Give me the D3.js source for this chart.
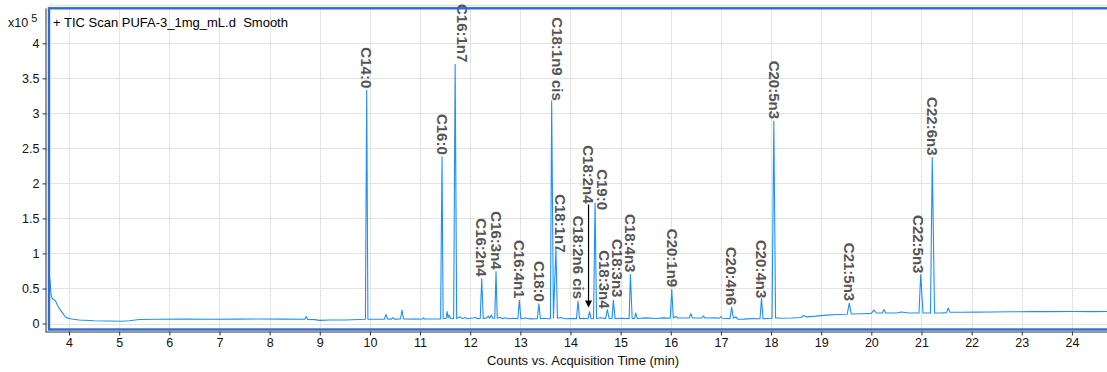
<!DOCTYPE html>
<html>
<head>
<meta charset="utf-8">
<script src="https://cdn.jsdelivr.net/npm/d3@7"></script>
<style>
  html, body { margin: 0; padding: 0; background: #fff; }
  svg { display: block; font-family: "Liberation Sans", Arial, Helvetica, sans-serif; }
</style>
</head>
<body>
<svg id="chart" width="1107" height="372"></svg>
<script>
// ---- Data: TIC trace of PUFA-3 (1 mg/mL), counts in units of 1e5 ----

// Identified FAME peaks: name, retention time (min), apex height (x10^5 counts)
const peakNames = [
  "C14:0", "C16:0", "C16:1n7", "C16:2n4", "C16:3n4", "C16:4n1", "C18:0",
  "C18:1n9 cis", "C18:1n7", "C18:2n6 cis", "C18:2n4", "C19:0", "C18:3n4",
  "C18:3n3", "C18:4n3", "C20:1n9", "C20:4n6", "C20:4n3", "C20:5n3",
  "C21:5n3", "C22:5n3", "C22:6n3"
];
const peakTimes = [
  9.936, 11.438, 11.700, 12.230, 12.515, 12.980, 13.370,
  13.625, 13.710, 14.150, 14.380, 14.490, 14.735,
  14.855, 15.195, 16.020, 17.215, 17.810, 18.055,
  19.560, 20.985, 21.215
];
const peakHeights = [
  3.33, 2.38, 3.70, 0.64, 0.74, 0.33, 0.28,
  3.18, 1.07, 0.32, 0.17, 1.72, 0.20,
  0.33, 0.70, 0.49, 0.23, 0.36, 2.89,
  0.29, 0.70, 2.37
];

// Baseline and unlabelled minor peaks: [time (min), counts (x10^5)]
const baselinePoints = [
  [3.60, 0.70], [3.62, 0.62], [3.64, 0.42], [3.66, 0.36], [3.70, 0.34], [3.73, 0.32],
  [3.76, 0.27], [3.80, 0.22], [3.84, 0.18], [3.88, 0.14], [3.92, 0.10], [3.96, 0.08],
  [4.05, 0.065], [4.20, 0.050], [4.50, 0.040], [4.80, 0.035], [5.05, 0.033],
  [5.20, 0.040], [5.40, 0.058], [5.80, 0.060], [6.30, 0.062], [6.80, 0.060],
  [7.30, 0.062], [7.80, 0.064], [8.30, 0.062], [8.70, 0.060], [8.73, 0.100],
  [8.76, 0.058], [8.90, 0.055], [9.00, 0.045], [9.20, 0.050], [9.50, 0.050],
  [9.80, 0.058], [9.91, 0.060], [9.96, 0.062], [10.10, 0.060], [10.29, 0.062],
  [10.32, 0.130], [10.35, 0.064], [10.43, 0.062], [10.46, 0.085], [10.49, 0.062],
  [10.61, 0.064], [10.64, 0.190], [10.67, 0.064], [10.90, 0.062], [11.05, 0.064],
  [11.07, 0.080], [11.09, 0.064], [11.41, 0.066], [11.46, 0.070], [11.52, 0.075],
  [11.54, 0.170], [11.56, 0.080], [11.58, 0.120], [11.61, 0.072], [11.67, 0.070],
  [11.73, 0.072], [11.80, 0.095], [11.84, 0.070], [11.90, 0.085], [11.95, 0.068],
  [12.05, 0.078], [12.10, 0.085], [12.14, 0.070], [12.20, 0.072], [12.26, 0.072],
  [12.33, 0.080], [12.36, 0.105], [12.39, 0.075], [12.42, 0.120], [12.45, 0.075],
  [12.49, 0.074], [12.54, 0.074], [12.60, 0.090], [12.64, 0.070], [12.70, 0.082],
  [12.76, 0.068], [12.85, 0.075], [12.95, 0.068], [13.01, 0.068], [13.10, 0.078],
  [13.20, 0.066], [13.34, 0.068], [13.40, 0.068], [13.46, 0.075], [13.55, 0.068],
  [13.60, 0.070], [13.66, 0.080], [13.74, 0.075], [13.80, 0.085], [13.90, 0.068],
  [14.00, 0.072], [14.12, 0.070], [14.18, 0.070], [14.26, 0.075], [14.35, 0.068],
  [14.41, 0.068], [14.46, 0.070], [14.52, 0.072], [14.60, 0.082], [14.70, 0.070],
  [14.77, 0.072], [14.83, 0.072], [14.89, 0.070], [15.00, 0.074], [15.17, 0.070],
  [15.23, 0.070], [15.28, 0.072], [15.30, 0.150], [15.33, 0.072], [15.50, 0.080],
  [15.70, 0.072], [15.85, 0.080], [15.99, 0.075], [16.05, 0.078], [16.10, 0.100],
  [16.14, 0.078], [16.37, 0.080], [16.40, 0.140], [16.43, 0.080], [16.62, 0.078],
  [16.65, 0.110], [16.68, 0.078], [16.90, 0.080], [16.97, 0.075], [17.00, 0.100],
  [17.03, 0.075], [17.18, 0.070], [17.25, 0.075], [17.30, 0.095], [17.34, 0.060],
  [17.45, 0.062], [17.60, 0.070], [17.78, 0.068], [17.84, 0.070], [17.95, 0.072],
  [18.02, 0.075], [18.09, 0.080], [18.20, 0.075], [18.40, 0.078], [18.60, 0.085],
  [18.65, 0.115], [18.70, 0.095], [18.90, 0.105], [19.10, 0.120], [19.30, 0.128],
  [19.52, 0.132], [19.60, 0.135], [19.80, 0.140], [20.00, 0.145], [20.05, 0.190],
  [20.10, 0.150], [20.22, 0.150], [20.25, 0.200], [20.29, 0.150], [20.50, 0.150],
  [20.60, 0.165], [20.75, 0.150], [20.95, 0.150], [21.03, 0.150], [21.18, 0.150],
  [21.26, 0.150], [21.40, 0.150], [21.50, 0.155], [21.53, 0.220], [21.57, 0.160],
  [21.80, 0.160], [22.10, 0.162], [22.40, 0.165], [22.80, 0.168], [23.20, 0.170],
  [23.60, 0.170], [24.00, 0.172], [24.40, 0.170], [24.70, 0.172]
];

const xTickValues = [4, 5, 6, 7, 8, 9, 10, 11, 12, 13, 14, 15, 16, 17, 18, 19, 20, 21, 22, 23, 24];
const yTickValues = [0, 0.5, 1, 1.5, 2, 2.5, 3, 3.5, 4];
const yTickLabels = ["0", "0.5", "1", "1.5", "2", "2.5", "3", "3.5", "4"];

const titleText = "+ TIC Scan PUFA-3_1mg_mL.d  Smooth";
const xAxisTitle = "Counts vs. Acquisition Time (min)";

// ---- Layout ----
const plot = { left: 49, right: 1107, top: 8.3, bottom: 329.5 };
const lineColor = "#1e8fff";
const frameColor = "#2f6bd3";
const labelColor = "#555555";

// Label placement tweaks (px): horizontal shift, extra gap above apex, leader arrow
const labelLayout = {
  "C16:1n7":     { dx: 7 },
  "C18:1n9 cis": { dx: 6, gap: 0 },
  "C18:1n7":     { dx: 4, gap: -4 },
  "C18:2n4":     { dx: -1, gap: 108, arrow: true },
  "C19:0":       { dx: 7, gap: -7 },
  "C18:3n4":     { dx: -3, gap: 1 },
  "C18:3n3":     { dx: 4, gap: 3 },
  "C20:4n3":     { gap: 0 },
  "C22:5n3":     { dx: -2, gap: 1 }
};

const svg = d3.select("#chart");

const x = d3.scaleLinear().domain([3.6, 24.7]).range([plot.left, plot.right]);
const y = d3.scaleLinear().domain([0, 4]).range([323.5, 43.3]);

// Light outer rule above the frame
svg.append("line")
  .attr("x1", plot.left).attr("x2", plot.right)
  .attr("y1", 5.5).attr("y2", 5.5)
  .attr("stroke", "#e2e2e2").attr("stroke-width", 1.5);

// Clip for plot contents
svg.append("defs").append("clipPath").attr("id", "plotClip")
  .append("rect")
  .attr("x", plot.left).attr("y", plot.top)
  .attr("width", plot.right - plot.left).attr("height", plot.bottom - plot.top);

// Grid
const grid = svg.append("g").attr("clip-path", "url(#plotClip)");
grid.selectAll("line.vx").data(xTickValues).join("line")
  .attr("x1", d => Math.round(x(d)) + 0.5).attr("x2", d => Math.round(x(d)) + 0.5)
  .attr("y1", plot.top).attr("y2", plot.bottom)
  .attr("stroke", "#e4e4e4").attr("stroke-width", 1);
grid.selectAll("line.hy").data(yTickValues).join("line")
  .attr("x1", plot.left).attr("x2", plot.right)
  .attr("y1", d => Math.round(y(d)) + 0.5).attr("y2", d => Math.round(y(d)) + 0.5)
  .attr("stroke", "#e4e4e4").attr("stroke-width", 1);

// Trace: baseline points merged with the labelled peak apexes
const apexPoints = peakTimes.map((t, i) => [t, peakHeights[i]]);
const trace = baselinePoints.concat(apexPoints).sort((a, b) => a[0] - b[0]);

const line = d3.line().x(d => x(d[0])).y(d => y(d[1]));
svg.append("g").attr("clip-path", "url(#plotClip)")
  .append("path")
  .datum(trace)
  .attr("d", line)
  .attr("fill", "none")
  .attr("stroke", lineColor)
  .attr("stroke-width", 1.1)
  .attr("stroke-linejoin", "round");

// Peak labels (rotated, reading top to bottom)
const labels = svg.append("g")
  .attr("font-size", 15)
  .attr("font-weight", "bold")
  .attr("fill", labelColor);

peakNames.forEach((name, i) => {
  const lay = labelLayout[name] || {};
  const px = x(peakTimes[i]) + (lay.dx || 0);
  const gap = lay.gap !== undefined ? lay.gap : 2;
  const endY = y(peakHeights[i]) - gap;
  labels.append("text")
    .attr("transform", `translate(${px},${endY}) rotate(90)`)
    .attr("text-anchor", "end")
    .attr("dy", "0.35em")
    .text(name);
  if (lay.arrow) {
    const tipY = y(peakHeights[i]) - 4;
    svg.append("line")
      .attr("x1", px).attr("x2", px)
      .attr("y1", endY + 1).attr("y2", tipY - 5)
      .attr("stroke", "#000").attr("stroke-width", 1.2);
    svg.append("path")
      .attr("d", `M${px - 3.5},${tipY - 7} L${px + 3.5},${tipY - 7} L${px},${tipY} Z`)
      .attr("fill", "#000");
  }
});

// Frame
svg.append("rect")
  .attr("x", plot.left).attr("y", plot.top)
  .attr("width", plot.right - plot.left + 5).attr("height", plot.bottom - plot.top)
  .attr("fill", "none")
  .attr("stroke", frameColor).attr("stroke-width", 2.4);

// Axes
const yAxis = d3.axisLeft(y)
  .tickValues(yTickValues)
  .tickFormat((d, i) => yTickLabels[i])
  .tickSize(4).tickPadding(3);
const yg = svg.append("g").attr("transform", "translate(46.5,0)").call(yAxis);
yg.select(".domain").attr("d", `M-0.5,${plot.top}V${plot.bottom + 3}`).attr("stroke", "#333");
yg.selectAll(".tick line").attr("stroke", "#333");
yg.selectAll(".tick text").attr("font-size", 12.5).attr("fill", "#111")
  .attr("font-family", "'Liberation Sans', Arial, sans-serif");

const xAxis = d3.axisBottom(x)
  .tickValues(xTickValues)
  .tickFormat(d3.format("d"))
  .tickSize(4).tickPadding(3);
const xg = svg.append("g").attr("transform", "translate(0,331.5)").call(xAxis);
xg.select(".domain").attr("d", `M${plot.left - 3},0.5H${plot.right}`).attr("stroke", "#333");
xg.selectAll(".tick line").attr("stroke", "#333");
xg.selectAll(".tick text").attr("font-size", 12.5).attr("fill", "#111")
  .attr("font-family", "'Liberation Sans', Arial, sans-serif");

// Titles
svg.append("text")
  .attr("x", 53).attr("y", 27)
  .attr("font-size", 13).attr("fill", "#000")
  .style("white-space", "pre")
  .text(titleText);

const mult = svg.append("text")
  .attr("x", 8).attr("y", 27)
  .attr("font-size", 12.5).attr("fill", "#111");
mult.append("tspan").text("x10");
mult.append("tspan").attr("dx", 3).attr("dy", -5).attr("font-size", 11).text("5");

svg.append("text")
  .attr("x", 583).attr("y", 365)
  .attr("text-anchor", "middle")
  .attr("font-size", 13).attr("fill", "#111")
  .text(xAxisTitle);
</script>
</body>
</html>
